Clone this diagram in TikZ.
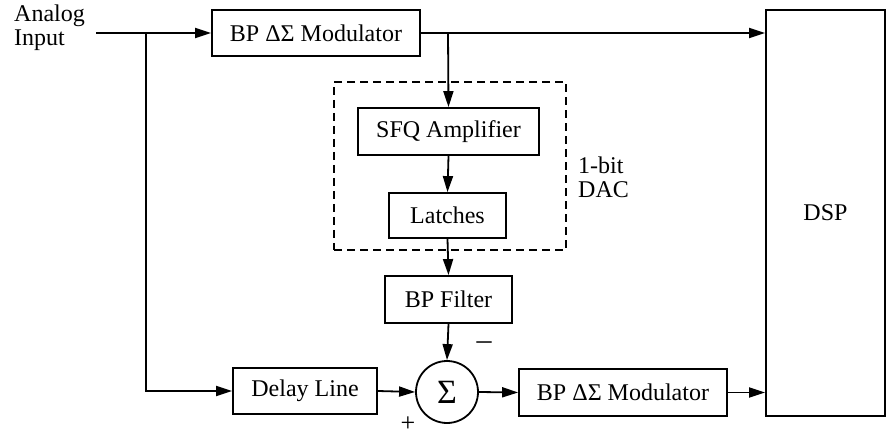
\documentclass[tikz,border=0pt]{standalone}
\usepackage{fontspec}
\setmainfont{Liberation Serif}
\usetikzlibrary{arrows.meta}
\begin{document}
\begin{tikzpicture}[x=1pt,y=-1pt,
  line width=1.8pt,
  lbl/.style={font=\fontsize{24}{25}\selectfont},
  two/.style={font=\fontsize{24}{24}\selectfont},
  blk/.style={draw, rectangle, inner sep=0pt, lbl},
  arr/.style={-{Triangle[length=16pt,width=10pt]}}]
\useasboundingbox (0,0) rectangle (886,438);
\node[anchor=west, align=left, two] (ain) at (10,28) {Analog\\Input};
\node[blk, minimum width=208pt, minimum height=46pt] (topmod) at (316,33) {BP ΔΣ Modulator};
\node[blk, minimum width=181pt, minimum height=47pt] (sfq) at (448.5,131.5) {SFQ Amplifier};
\node[blk, minimum width=117pt, minimum height=45pt] (latch) at (447.5,215.5) {Latches};
\node[blk, minimum width=127pt, minimum height=47pt] (bpf) at (448.5,299.5) {BP Filter};
\node[draw, circle, minimum size=62pt, inner sep=0pt, font=\fontsize{34}{36}\selectfont] (sum) at (447,392) {Σ};
\node[blk, minimum width=144pt, minimum height=46pt] (delay) at (305,391) {Delay Line};
\node[blk, minimum width=208pt, minimum height=47pt] (botmod) at (623,392.5) {BP ΔΣ Modulator};
\node[blk, minimum width=119pt, minimum height=406pt] (dsp) at (825.5,213) {DSP};
\node[draw, dashed, dash pattern=on 8pt off 5pt, minimum width=232pt, minimum height=168pt, inner sep=0pt] (dac) at (450,166) {};
\node[anchor=west, align=left, two] (daclbl) at (574,177) {1-bit\\DAC};
\node[inner sep=0pt, font=\fontsize{30}{30}\selectfont] (minus) at (484,346) {–};
\node[inner sep=0pt, font=\fontsize{26}{26}\selectfont] (plus) at (408,424) {+};
\coordinate (in) at (96,33);
\coordinate (b1) at (146,33);
\coordinate (b2) at (448,33);
\draw[arr] (in) -- (topmod.west);
\draw[arr] (b1) |- (delay.west);
\draw[arr] (topmod.east) -- (topmod.east -| dsp.west);
\draw[arr] (b2) -- (sfq.north);
\draw[arr] (sfq.south) -- (latch.north);
\draw[arr] (latch.south) -- (bpf.north);
\draw[arr] (bpf.south) -- (sum.north);
\draw[arr] (delay.east) -- (sum.west);
\draw[arr] (sum.east) -- (botmod.west);
\draw[arr] (botmod.east) -- (botmod.east -| dsp.west);
\end{tikzpicture}
\end{document}
